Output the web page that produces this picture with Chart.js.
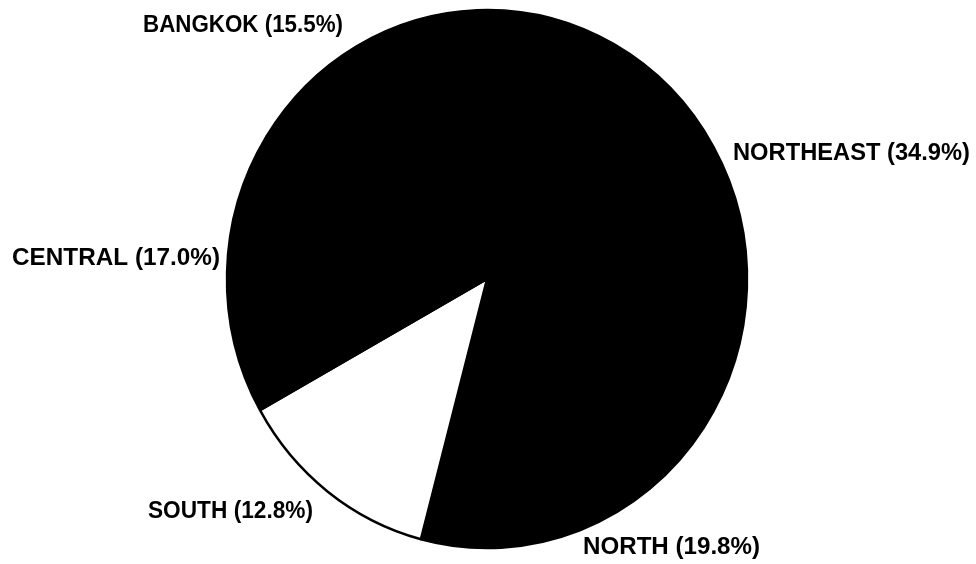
<!DOCTYPE html>
<html>
<head>
<meta charset="utf-8">
<style>
  html, body { margin: 0; padding: 0; background: #ffffff; }
  #wrap { width: 976px; height: 564px; position: relative; }
</style>
<script src="https://cdn.jsdelivr.net/npm/chart.js@4.4.1/dist/chart.umd.min.js"></script>
</head>
<body>
<div id="wrap"><canvas id="c" width="976" height="564"></canvas></div>
<script>
// ---- data ----
const regions = ["BANGKOK", "NORTHEAST", "NORTH", "SOUTH", "CENTRAL"];
const shares  = [15.5, 34.9, 19.8, 12.8, 17.0];

// ---- styles / layout (not data) ----
const sliceColors = ["#000000", "#000000", "#000000", "#ffffff", "#000000"];
// label box: left x, centre y, target width (px)
const labelLayout = [
  { x: 143, y: 26,  w: 200 },
  { x: 733, y: 154, w: 237 },
  { x: 583, y: 548, w: 177 },
  { x: 148, y: 512, w: 165 },
  { x: 12,  y: 259, w: 208 }
];
// the scanned pie is slightly taller than wide
const pieStretch = { sx: 0.985, sy: 1.019 };

const labelText = regions.map((r, i) => r + " (" + shares[i].toFixed(1) + "%)");

const stretchPlugin = {
  id: "pieStretch",
  beforeDatasetsDraw(chart) {
    const a = chart.getDatasetMeta(0).data[0];
    const ctx = chart.ctx;
    ctx.save();
    ctx.translate(a.x, a.y);
    ctx.scale(pieStretch.sx, pieStretch.sy);
    ctx.translate(-a.x, -a.y);
  },
  afterDatasetsDraw(chart) {
    chart.ctx.restore();
  }
};

const labelPlugin = {
  id: "sliceLabels",
  afterDraw(chart) {
    const ctx = chart.ctx;
    ctx.save();
    ctx.fillStyle = "#000000";
    ctx.textBaseline = "middle";
    ctx.textAlign = "left";
    ctx.font = "bold 23px 'Liberation Sans', Arial, sans-serif";
    labelText.forEach((t, i) => {
      const L = labelLayout[i];
      const m = ctx.measureText(t).width;
      const sx = L.w / m;
      ctx.save();
      ctx.translate(L.x, L.y);
      ctx.scale(sx, 1);
      ctx.fillText(t, 0, 0);
      ctx.restore();
    });
    ctx.restore();
  }
};

new Chart(document.getElementById("c"), {
  type: "pie",
  data: {
    labels: regions,
    datasets: [{
      data: shares,
      backgroundColor: sliceColors,
      borderColor: "#000000",
      borderWidth: 2.5,
      hoverOffset: 0
    }]
  },
  options: {
    responsive: false,
    animation: false,
    rotation: -58,
    radius: 264,
    layout: { padding: { left: 0, right: 2, top: 0, bottom: 6 } },
    plugins: {
      legend: { display: false },
      tooltip: { enabled: false },
      title: { display: false }
    }
  },
  plugins: [stretchPlugin, labelPlugin]
});
</script>
</body>
</html>
